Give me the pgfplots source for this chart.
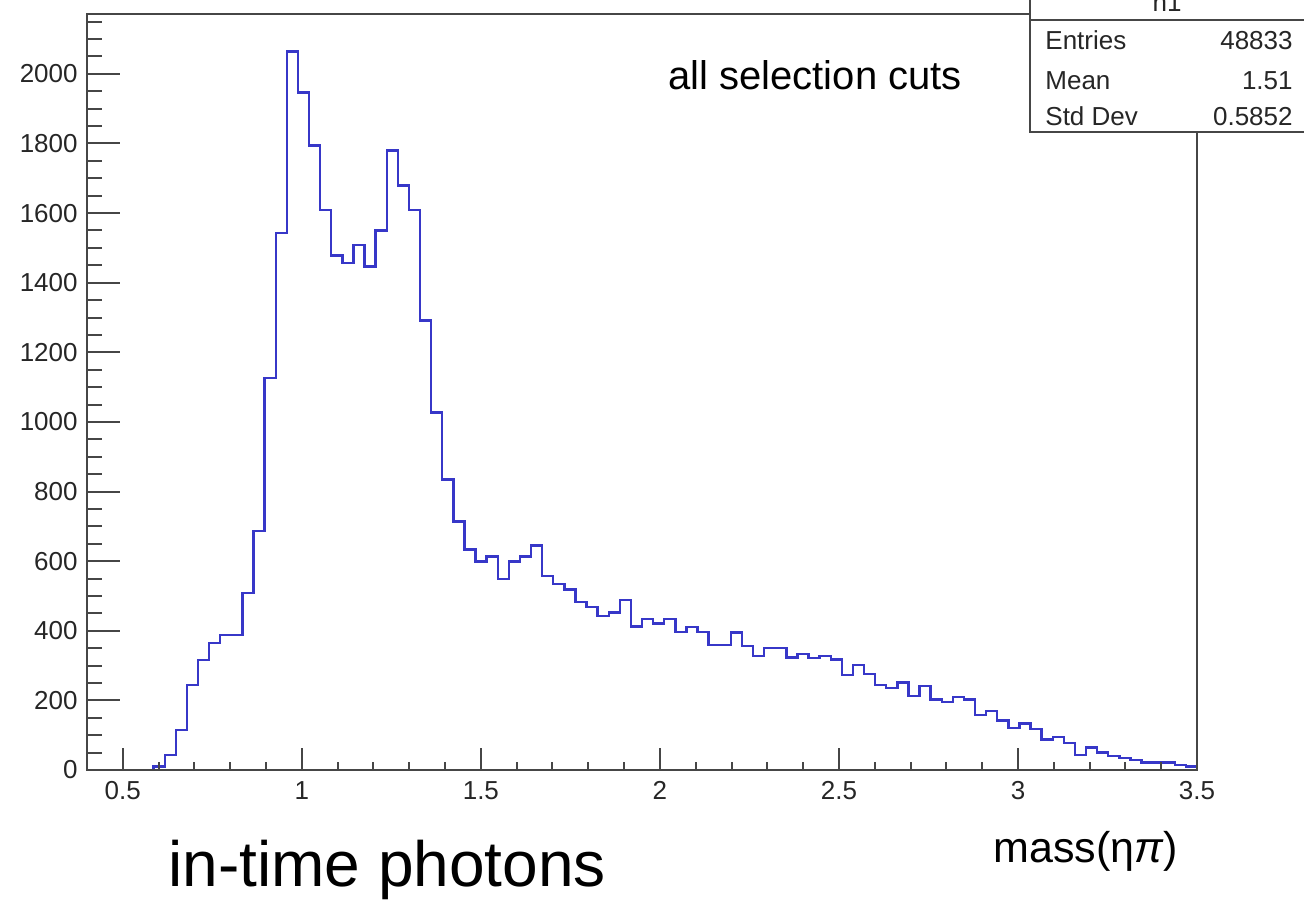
\documentclass[border=0pt]{standalone}
\usepackage{pgfplots}
\pgfplotsset{compat=1.18}
\usepackage{fontspec}
\setmainfont{Liberation Sans}
\definecolor{histblue}{RGB}{55,55,200}
\definecolor{framec}{RGB}{70,70,70}

\pgfplotstableread{
x y
0.400 0
0.431 0
0.462 0
0.493 0
0.524 0
0.555 0
0.586 10
0.617 43
0.648 115
0.679 244
0.710 316
0.741 364
0.772 388
0.803 388
0.834 508
0.865 687
0.896 1126
0.927 1542
0.958 2064
0.989 1946
1.020 1794
1.051 1609
1.082 1478
1.113 1456
1.144 1509
1.175 1446
1.206 1550
1.237 1780
1.268 1679
1.299 1609
1.330 1291
1.361 1027
1.392 835
1.423 714
1.454 634
1.485 599
1.516 613
1.547 549
1.578 599
1.609 613
1.640 645
1.671 558
1.702 534
1.733 519
1.764 482
1.795 469
1.826 443
1.857 452
1.888 489
1.919 412
1.950 433
1.981 421
2.012 433
2.043 397
2.074 410
2.105 397
2.136 359
2.167 359
2.198 395
2.229 357
2.260 328
2.291 350
2.322 350
2.353 323
2.384 333
2.415 321
2.446 328
2.477 318
2.508 273
2.539 302
2.570 276
2.601 244
2.632 235
2.663 251
2.694 213
2.725 241
2.756 203
2.787 196
2.818 209
2.849 203
2.880 158
2.911 170
2.942 142
2.973 120
3.004 134
3.035 117
3.066 88
3.097 94
3.128 77
3.159 43
3.190 65
3.221 50
3.252 40
3.283 34
3.314 29
3.345 21
3.376 21
3.407 21
3.438 14
3.469 10
3.500 10
}\histdata

\begin{document}
\begin{tikzpicture}[x=1pt,y=1pt]
\useasboundingbox (0,0) rectangle (652,457);
\pgfplotsset{myaxis/.style={
  at={(43.5pt,72pt)}, anchor=south west, scale only axis,
  width=555pt, height=378pt,
  xmin=0.4, xmax=3.5, ymin=0, ymax=2172,
  axis line style={framec, line width=1.2pt},
  tick style={framec, line width=1pt},
  tick align=inside, tick pos=left,
  /pgf/number format/assume math mode=true,
  /pgf/number format/set thousands separator={},
  scaled ticks=false,
  ticklabel style={font=\fontsize{13}{15}\selectfont, text=black!85, inner sep=0pt},
}}
\begin{axis}[myaxis,
  ytick={0,200,...,2000},
  minor ytick={0,50,...,2150},
  xtick=\empty,
  major tick length=16.5pt, minor tick length=7.5pt,
  yticklabel style={xshift=-4.5pt}]
\addplot[const plot, histblue, line width=1.2pt] table[x=x,y=y] {\histdata};
\end{axis}
\begin{axis}[myaxis,
  xtick={0.5,1,1.5,2,2.5,3,3.5},
  minor xtick={0.6,0.7,0.8,0.9,1.1,1.2,1.3,1.4,1.6,1.7,1.8,1.9,2.1,2.2,2.3,2.4,2.6,2.7,2.8,2.9,3.1,3.2,3.3,3.4},
  ytick=\empty,
  major tick length=11pt, minor tick length=4pt,
  xticklabel style={yshift=-5.5pt}]
\addplot[draw=none] coordinates {(1,0)};
\end{axis}

\node[anchor=base west, inner sep=0, font=\fontsize{20}{24}\selectfont] at (334,412) {all selection cuts};
\node[anchor=base west, inner sep=0, font=\fontsize{21.5}{25}\selectfont] at (496.5,25.5) {mass(η\textit{π})};
\node[anchor=base west, inner sep=0, font=\fontsize{32}{38}\selectfont] at (84,13.5) {in-time photons};

\draw[framec, line width=1.2pt, fill=white] (515,391) rectangle (665,465);
\draw[framec, line width=1.2pt] (515,447) -- (665,447);
\node[anchor=base, inner sep=0, font=\fontsize{13}{15}\selectfont, text=black!85] at (583.5,451) {h1};
\begin{scope}[every node/.style={inner sep=0, font=\fontsize{13}{15}\selectfont, text=black!85}]
\node[anchor=base west] at (522.5,432) {Entries};
\node[anchor=base east] at (646.5,432) {48833};
\node[anchor=base west] at (522.5,412) {Mean};
\node[anchor=base east] at (646.5,412) {1.51};
\node[anchor=base west] at (522.5,394) {Std Dev};
\node[anchor=base east] at (646.5,394) {0.5852};
\end{scope}
\end{tikzpicture}
\end{document}
